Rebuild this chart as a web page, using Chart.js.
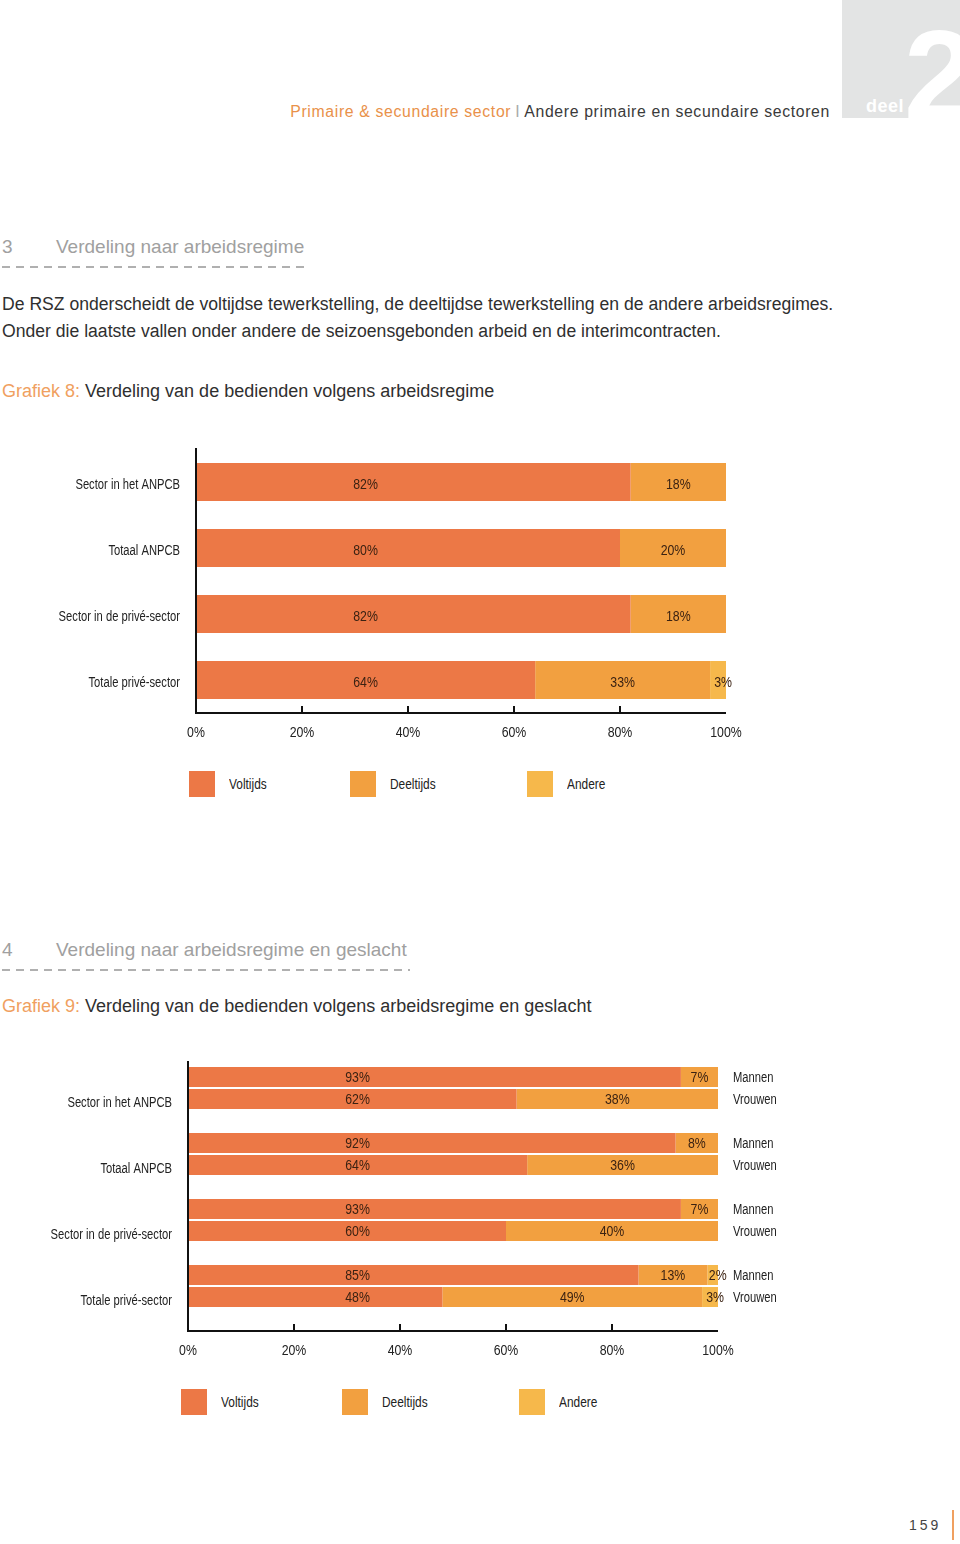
<!DOCTYPE html>
<html>
<head>
<meta charset="utf-8">
<script src="https://cdn.jsdelivr.net/npm/chart.js@4.4.1/dist/chart.umd.min.js"></script>
<style>
  html, body { margin: 0; padding: 0; background: #fff; }
  body { width: 960px; height: 1544px; position: relative; overflow: hidden; font-family: "Liberation Sans", Arial, sans-serif; }
  .abs { position: absolute; white-space: nowrap; }
  #deelBox { left: 842px; top: 0; width: 118px; height: 118px; background: #e3e4e4; overflow: hidden; }
  #deelBox .deel { position: absolute; left: 24px; top: 96px; font-size: 18px; font-weight: bold; color: #fff; letter-spacing: 0.5px; }
  #deelBox .nr { position: absolute; left: 62px; top: 12px; font-size: 128px; font-weight: bold; color: #fff; line-height: 1; }
  .header { right: 130px; top: 103px; font-size: 15.8px; letter-spacing: 0.65px; color: #3a3a3a; }
  .header .or { color: #e9914a; }
  .header .sep { color: #aaa; margin: 0 4px; }
  .sect { left: 2px; font-size: 19px; color: #a0a0a0; }
  .sect span { position: absolute; left: 54px; }
  .dash { left: 2px; height: 1.5px; background: repeating-linear-gradient(to right, #b0b0b0 0 8px, transparent 8px 14px); }
  .body { left: 2px; font-size: 17.6px; color: #2f2f2f; line-height: 27px; }
  .graf { left: 2px; font-size: 18px; color: #2f2f2f; }
  .graf .or { color: #f0a060; }
  canvas { position: absolute; left: 0; }
  .legend { position: absolute; height: 26px; }
  .legend .box { position: absolute; top: 0; width: 26px; height: 26px; }
  .legend .txt { position: absolute; top: 5px; font-size: 14px; color: #222; transform: scaleX(0.85); transform-origin: 0 0; }
  .pnum { left: 909px; top: 1517px; font-size: 14px; letter-spacing: 3px; color: #444; }
  .pline { left: 952px; top: 1510px; width: 2px; height: 30px; background: #f0a060; }
</style>
</head>
<body>
<div class="abs" id="deelBox"><div class="deel">deel</div><div class="nr">2</div></div>
<div class="abs header"><span class="or">Primaire &amp; secundaire sector</span><span class="sep">I</span>Andere primaire en secundaire sectoren</div>

<div class="abs sect" style="top:236px">3<span>Verdeling naar arbeidsregime</span></div>
<div class="abs dash" style="top:266px;width:303px"></div>
<div class="abs body" style="top:291px">De RSZ onderscheidt de voltijdse tewerkstelling, de deeltijdse tewerkstelling en de andere arbeidsregimes.<br>Onder die laatste vallen onder andere de seizoensgebonden arbeid en de interimcontracten.</div>
<div class="abs graf" style="top:381px"><span class="or">Grafiek 8:</span> Verdeling van de bedienden volgens arbeidsregime</div>

<canvas id="chart1" width="800" height="330" style="top:430px;width:800px;height:330px"></canvas>
<div class="legend" id="legend1" style="left:189px;top:771px"></div>

<div class="abs sect" style="top:939px">4<span>Verdeling naar arbeidsregime en geslacht</span></div>
<div class="abs dash" style="top:969px;width:408px"></div>
<div class="abs graf" style="top:996px"><span class="or">Grafiek 9:</span> Verdeling van de bedienden volgens arbeidsregime en geslacht</div>

<canvas id="chart2" width="800" height="340" style="top:1040px;width:800px;height:340px"></canvas>
<div class="legend" id="legend2" style="left:181px;top:1389px"></div>

<div class="abs pnum">159</div>
<div class="abs pline"></div>

<script>
const categories = ['Sector in het ANPCB', 'Totaal ANPCB', 'Sector in de privé-sector', 'Totale privé-sector'];
const regimes = ['Voltijds', 'Deeltijds', 'Andere'];
const regimeColors = ['#ec7846', '#f2a040', '#f6b84b'];
const xTicks = [0, 20, 40, 60, 80, 100];

// Grafiek 8
const voltijds = [82, 80, 82, 64];
const deeltijds = [18, 20, 18, 33];
const andere = [0, 0, 0, 3];

// Grafiek 9
const genders = ['Mannen', 'Vrouwen'];
const mannenVoltijds = [93, 92, 93, 85];
const mannenDeeltijds = [7, 8, 7, 13];
const mannenAndere = [0, 0, 0, 2];
const vrouwenVoltijds = [62, 64, 60, 48];
const vrouwenDeeltijds = [38, 36, 40, 49];
const vrouwenAndere = [0, 0, 0, 3];

const chartFont = '14px "Liberation Sans", Arial, sans-serif';
// the print uses a condensed face: words get squeezed more than numbers
const wordSqueeze = 0.8;
const numSqueeze = 0.88;
const inkColor = '#222';

function condensedText(ctx, text, x, y, align, sx) {
    ctx.save();
    ctx.translate(x, y);
    ctx.scale(sx, 1);
    ctx.textAlign = align;
    ctx.fillText(text, 0, 0);
    ctx.restore();
}

// axis lines with the small upward ticks, like in the print
const axisLines = {
    id: 'axisLines',
    afterDraw(chart, args, opts) {
        const ctx = chart.ctx;
        const area = chart.chartArea;
        const xs = chart.scales.x;
        const axisY = area.bottom + (opts.below || 0);
        ctx.save();
        ctx.strokeStyle = '#111';
        ctx.lineWidth = 2;
        ctx.beginPath();
        ctx.moveTo(area.left, area.top + (opts.topInset || 0));
        ctx.lineTo(area.left, axisY);
        ctx.lineTo(area.right, axisY);
        xTicks.forEach(v => {
            if (v === 0 || v === 100) return;
            const px = xs.getPixelForValue(v);
            ctx.moveTo(px, axisY);
            ctx.lineTo(px, axisY - 7);
        });
        ctx.stroke();
        ctx.restore();
    }
};

// tick labels, drawn condensed
const tickLabels = {
    id: 'tickLabels',
    afterDraw(chart, args, opts) {
        const ctx = chart.ctx;
        const xs = chart.scales.x;
        const ys = chart.scales.y;
        ctx.save();
        ctx.font = chartFont;
        ctx.fillStyle = inkColor;
        ctx.textBaseline = 'middle';
        ys.ticks.forEach((t, i) => {
            condensedText(ctx, ys.getLabelForValue(t.value), chart.chartArea.left - 16, ys.getPixelForTick(i) + opts.yShift, 'right', wordSqueeze);
        });
        const ly = chart.chartArea.bottom + opts.xGap;
        xs.ticks.forEach(t => {
            condensedText(ctx, t.value + '%', xs.getPixelForValue(t.value), ly, 'center', numSqueeze);
        });
        ctx.restore();
    }
};

// percentages inside the bars
const barLabels = {
    id: 'barLabels',
    afterDatasetsDraw(chart, args, opts) {
        const ctx = chart.ctx;
        const xs = chart.scales.x;
        ctx.save();
        ctx.font = chartFont;
        ctx.fillStyle = '#3b2212';
        ctx.textBaseline = 'middle';
        chart.data.datasets.forEach((ds, di) => {
            const meta = chart.getDatasetMeta(di);
            meta.data.forEach((bar, i) => {
                const v = ds.data[i];
                if (!v) return;
                let x;
                if (ds.regime === 0) {
                    x = xs.getPixelForValue(32);
                } else {
                    x = (bar.x + bar.base) / 2;
                    if (v < 5) x += 5;
                }
                condensedText(ctx, v + '%', x, bar.y + opts.shift, 'center', numSqueeze);
            });
        });
        ctx.restore();
    }
};

// Mannen / Vrouwen next to the bars of grafiek 9
const genderLabels = {
    id: 'genderLabels',
    afterDatasetsDraw(chart, args, opts) {
        if (!opts.show) return;
        const ctx = chart.ctx;
        ctx.save();
        ctx.font = chartFont;
        ctx.fillStyle = inkColor;
        ctx.textBaseline = 'middle';
        chart.data.datasets.forEach((ds, di) => {
            if (ds.regime !== 0) return;
            const meta = chart.getDatasetMeta(di);
            meta.data.forEach(bar => {
                condensedText(ctx, genders[ds.gender], chart.chartArea.right + 15, bar.y + 1, 'left', wordSqueeze);
            });
        });
        ctx.restore();
    }
};

function makeOptions(yWidth, xHeight, padTop, padRight, xGap, yShift, barShift, axisOpts, grouped) {
    const yScale = {
        afterFit(scale) { scale.width = yWidth; },
        grid: { display: false, drawTicks: false },
        border: { display: false },
        ticks: { display: false }
    };
    if (!grouped) yScale.stacked = true;
    return {
        indexAxis: 'y',
        responsive: false,
        animation: false,
        layout: { padding: { top: padTop, right: padRight, left: 0, bottom: 0 } },
        plugins: {
            legend: { display: false },
            tooltip: { enabled: false },
            axisLines: axisOpts,
            tickLabels: { xGap: xGap, yShift: yShift },
            barLabels: { shift: barShift },
            genderLabels: { show: grouped }
        },
        scales: {
            x: {
                stacked: true,
                min: 0,
                max: 100,
                afterBuildTicks(scale) { scale.ticks = xTicks.map(v => ({ value: v })); },
                afterFit(scale) { scale.height = xHeight; },
                grid: { display: false, drawTicks: false },
                border: { display: false },
                ticks: { display: false }
            },
            y: yScale
        }
    };
}

const chartPlugins = [axisLines, tickLabels, barLabels, genderLabels];

new Chart(document.getElementById('chart1'), {
    type: 'bar',
    data: {
        labels: categories,
        datasets: [voltijds, deeltijds, andere].map((d, r) => ({
            label: regimes[r],
            regime: r,
            data: d,
            backgroundColor: regimeColors[r],
            borderWidth: 0,
            categoryPercentage: 38 / 66,
            barPercentage: 1
        }))
    },
    options: makeOptions(196, 47, 19, 74, 20, 3, 3, { below: 0, topInset: -1 }, false),
    plugins: chartPlugins
});

const chart2Series = [
    [mannenVoltijds, mannenDeeltijds, mannenAndere],
    [vrouwenVoltijds, vrouwenDeeltijds, vrouwenAndere]
];
const chart2Datasets = [];
chart2Series.forEach((series, g) => {
    series.forEach((d, r) => {
        chart2Datasets.push({
            label: regimes[r] + ' ' + genders[g],
            regime: r,
            gender: g,
            stack: genders[g],
            data: d,
            backgroundColor: regimeColors[r],
            borderWidth: 0,
            categoryPercentage: 44 / 66,
            barPercentage: 20 / 22
        });
    });
});

new Chart(document.getElementById('chart2'), {
    type: 'bar',
    data: { labels: categories, datasets: chart2Datasets },
    options: makeOptions(188, 61, 15, 82, 32, 15, 1, { below: 12, topInset: 6 }, true),
    plugins: chartPlugins
});

// legends under the charts
['legend1', 'legend2'].forEach(id => {
    const el = document.getElementById(id);
    const offsets = [0, 161, 338];
    regimes.forEach((name, r) => {
        el.innerHTML += `<div class="box" style="left:${offsets[r]}px;background:${regimeColors[r]}"></div>` +
            `<div class="txt" style="left:${offsets[r] + 40}px">${name}</div>`;
    });
});
</script>
</body>
</html>
